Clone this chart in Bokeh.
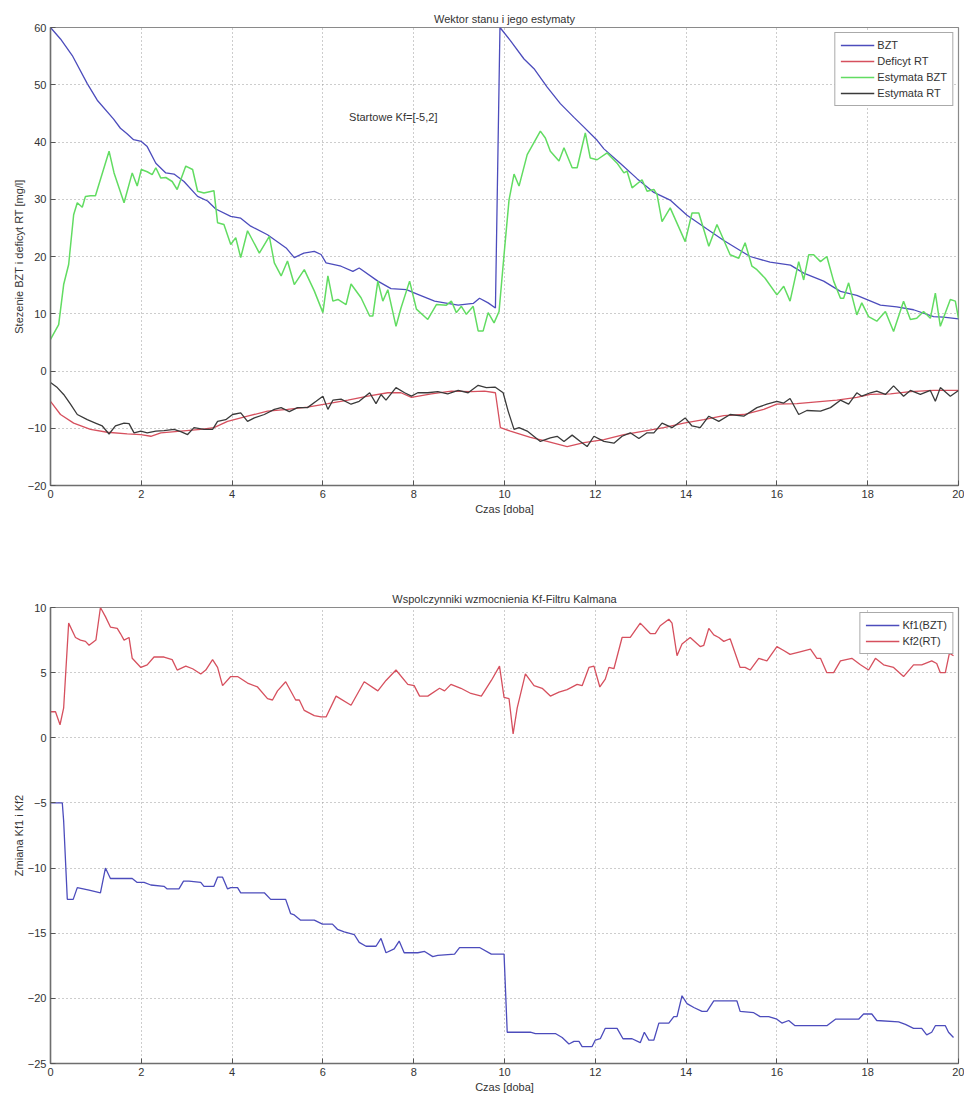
from bokeh.plotting import figure
from bokeh.layouts import column
from bokeh.models import FixedTicker, Label
from bokeh.embed import file_html
from bokeh.resources import INLINE

# ---------------- data: top chart (state vector and estimates) ----------------
bzt_t = [0, 0.22, 0.48, 0.81, 1.03, 1.39, 1.54, 1.68, 1.83, 2.0,
         2.13, 2.32, 2.54, 2.72, 2.94, 3.24, 3.46, 3.64, 3.97, 4.19,
         4.41, 4.78, 5.19, 5.37, 5.58, 5.81, 5.96, 6.07, 6.40, 6.66,
         6.80, 7.21, 7.50, 7.84, 8.09, 8.46, 8.68, 8.98, 9.31, 9.45,
         9.64, 9.80, 9.90, 10.13, 10.43, 10.65, 10.94, 11.23, 11.53, 11.75,
         12.04, 12.19, 12.56, 12.92, 13.29, 13.66, 14.02, 14.46, 14.83, 15.20,
         15.41, 15.85, 16.30, 16.59, 17.03, 17.40, 17.76, 18.28, 18.64, 19.01,
         19.45, 19.67, 20.0]
bzt_v = [60, 58.0, 55.1, 50.2, 47.3, 44.0, 42.4, 41.5, 40.4, 40.1,
         39.2, 36.3, 34.6, 34.4, 33.1, 30.5, 29.7, 28.3, 27.0, 26.7,
         25.3, 23.8, 21.5, 19.8, 20.6, 20.9, 20.35, 18.9, 18.3, 17.4,
         18.0, 15.7, 14.4, 14.2, 13.4, 12.2, 11.9, 11.5, 11.8, 12.7,
         11.9, 11.0, 60, 57.7, 54.5, 52.8, 49.6, 46.7, 44.3, 42.6,
         40.3, 38.8, 36.2, 33.6, 31.2, 29.8, 27.2, 24.8, 22.8, 21.0,
         20.0, 19.0, 18.5, 17.1, 15.7, 13.9, 13.2, 11.5, 11.2, 10.7,
         9.5, 9.4, 9.1]

def_t = [0, 0.22, 0.51, 0.88, 1.25, 1.69, 1.99, 2.21, 2.43, 2.87,
         3.31, 3.60, 3.90, 4.34, 4.78, 5.22, 5.66, 6.11, 6.55, 6.99,
         7.43, 7.72, 7.95, 8.39, 8.83, 9.27, 9.56, 9.80, 9.91, 10.13,
         10.57, 10.94, 11.38, 11.75, 12.19, 12.63, 13.07, 13.51, 13.95, 14.39,
         14.83, 15.27, 15.71, 16.0, 16.44, 16.88, 17.32, 17.76, 18.06, 18.50,
         18.94, 19.45, 20.0]
def_v = [-5.3, -7.6, -9.1, -10.2, -10.7, -11.0, -11.1, -11.4, -10.8, -10.5,
         -10.2, -9.9, -8.8, -7.9, -7.0, -6.7, -6.3, -5.7, -5.1, -4.4,
         -3.8, -3.8, -4.6, -4.0, -3.5, -3.6, -3.5, -3.8, -9.9, -10.5,
         -11.6, -12.3, -13.2, -12.5, -12.0, -11.1, -10.5, -9.9, -9.1, -8.5,
         -7.8, -7.6, -6.7, -5.8, -5.7, -5.4, -5.1, -4.6, -4.1, -4.0,
         -3.6, -3.4, -3.4]

est_bzt_t = [0, 0.18, 0.29, 0.40, 0.51, 0.59, 0.70, 0.77, 0.88, 0.99,
             1.29, 1.40, 1.62, 1.80, 1.91, 2.0, 2.13, 2.24, 2.32, 2.43,
             2.54, 2.68, 2.79, 2.98, 3.13, 3.24, 3.38, 3.60, 3.68, 3.82,
             3.97, 4.08, 4.19, 4.34, 4.60, 4.82, 4.93, 5.08, 5.22, 5.37,
             5.59, 5.81, 6.0, 6.11, 6.22, 6.33, 6.51, 6.62, 6.84, 7.03,
             7.10, 7.21, 7.32, 7.43, 7.61, 7.72, 7.91, 8.06, 8.31, 8.50,
             8.72, 8.83, 8.94, 9.05, 9.16, 9.31, 9.42, 9.53, 9.64, 9.77,
             9.88, 9.99, 10.10, 10.21, 10.32, 10.50, 10.79, 10.90, 11.01, 11.20,
             11.31, 11.49, 11.60, 11.78, 11.89, 12.04, 12.26, 12.48, 12.63, 12.70,
             12.81, 13.03, 13.14, 13.29, 13.36, 13.47, 13.65, 13.98, 14.13, 14.28,
             14.50, 14.68, 14.97, 15.16, 15.30, 15.45, 15.56, 15.74, 16.0, 16.15,
             16.29, 16.48, 16.59, 16.70, 16.81, 16.96, 17.10, 17.25, 17.40, 17.47,
             17.58, 17.76, 17.87, 18.02, 18.20, 18.39, 18.57, 18.79, 18.94, 19.08,
             19.23, 19.38, 19.49, 19.60, 19.82, 19.93, 20.0]
est_bzt_v = [5.5, 8.1, 15.1, 18.6, 27.3, 29.4, 28.6, 30.5, 30.6, 30.6,
             38.4, 34.6, 29.4, 34.6, 32.3, 35.2, 34.8, 34.3, 35.5, 33.7,
             33.8, 33.1, 31.7, 35.8, 35.2, 31.4, 31.1, 31.5, 25.9, 25.6,
             22.1, 23.3, 19.8, 24.5, 20.6, 23.5, 18.9, 16.6, 19.2, 15.1,
             17.7, 14.0, 10.2, 16.6, 12.2, 12.5, 11.6, 15.2, 12.8, 9.6,
             9.6, 15.7, 12.2, 14.2, 7.8, 11.0, 15.7, 10.8, 9.0, 11.6,
             11.5, 12.2, 10.2, 11.3, 9.9, 11.3, 7.0, 7.0, 10.2, 8.4,
             10.4, 20.3, 29.9, 34.4, 32.3, 37.8, 41.9, 40.7, 38.4, 36.7,
             39.0, 35.5, 35.5, 41.6, 37.2, 36.9, 38.1, 36.3, 34.6, 34.9,
             32.0, 33.4, 31.4, 31.7, 30.8, 26.1, 28.5, 22.6, 27.6, 27.6,
             21.8, 25.6, 20.3, 19.7, 22.4, 18.3, 17.7, 16.2, 13.3, 14.8,
             12.2, 19.1, 15.9, 20.3, 20.3, 19.1, 20.0, 15.7, 12.7, 12.7,
             15.4, 9.8, 11.9, 9.5, 8.7, 10.4, 6.9, 12.2, 9.0, 9.2,
             10.4, 9.2, 13.6, 7.8, 12.5, 12.2, 9.2]

est_rt_t = [0, 0.15, 0.29, 0.44, 0.59, 0.81, 0.99, 1.14, 1.29, 1.43,
            1.62, 1.73, 1.84, 1.99, 2.13, 2.32, 2.50, 2.72, 2.87, 3.02,
            3.16, 3.38, 3.57, 3.68, 3.86, 4.01, 4.19, 4.34, 4.49, 4.71,
            4.93, 5.08, 5.26, 5.44, 5.66, 5.85, 6.0, 6.11, 6.22, 6.40,
            6.62, 6.80, 7.03, 7.17, 7.28, 7.39, 7.61, 7.80, 7.95, 8.09,
            8.31, 8.53, 8.75, 8.98, 9.20, 9.42, 9.60, 9.79, 9.97, 10.08,
            10.21, 10.32, 10.50, 10.79, 11.01, 11.16, 11.31, 11.49, 11.67, 11.82,
            11.97, 12.19, 12.41, 12.59, 12.77, 12.96, 13.14, 13.29, 13.47, 13.69,
            13.98, 14.13, 14.31, 14.50, 14.72, 14.97, 15.27, 15.56, 15.78, 16.0,
            16.15, 16.29, 16.48, 16.66, 16.96, 17.18, 17.40, 17.58, 17.76, 17.87,
            18.06, 18.20, 18.39, 18.57, 18.79, 18.94, 19.16, 19.38, 19.49, 19.60,
            19.82, 20.0]
est_rt_v = [-2.0, -2.9, -4.1, -5.8, -7.6, -8.5, -9.1, -9.6, -11.0, -9.6,
            -9.1, -9.2, -10.8, -10.5, -10.8, -10.5, -10.4, -10.2, -10.6, -11.1,
            -9.9, -10.2, -10.2, -8.8, -8.5, -7.6, -7.3, -8.8, -8.2, -7.6,
            -6.7, -6.4, -7.1, -6.4, -6.4, -5.3, -4.4, -6.7, -5.1, -4.9,
            -5.8, -5.3, -3.8, -5.7, -4.1, -5.1, -2.9, -3.8, -4.4, -3.8,
            -3.8, -3.6, -4.0, -3.4, -3.8, -2.5, -2.9, -2.8, -3.8, -7.0,
            -10.2, -9.9, -10.5, -12.3, -11.7, -11.4, -12.3, -11.2, -12.3, -13.2,
            -11.4, -12.3, -12.6, -11.4, -10.8, -11.8, -10.8, -10.8, -9.1, -9.9,
            -8.2, -9.6, -9.9, -7.9, -8.8, -7.6, -7.9, -6.4, -5.8, -5.3,
            -5.6, -4.8, -7.6, -6.9, -7.0, -6.4, -5.1, -5.8, -3.8, -4.4,
            -3.8, -3.5, -4.1, -2.6, -4.4, -3.4, -4.1, -3.4, -5.3, -2.9,
            -4.4, -3.4]

# ---------------- data: bottom chart (Kalman gains) ----------------
kf1_t = [0, 0.26, 0.29, 0.37, 0.50, 0.59, 0.85, 1.10, 1.21, 1.32,
         1.80, 1.91, 2.06, 2.21, 2.50, 2.57, 2.83, 2.93, 3.05, 3.31,
         3.38, 3.60, 3.68, 3.79, 3.90, 3.97, 4.12, 4.19, 4.71, 4.85,
         5.18, 5.29, 5.37, 5.51, 5.81, 5.99, 6.21, 6.32, 6.47, 6.69,
         6.80, 6.95, 7.17, 7.28, 7.39, 7.57, 7.68, 7.79, 8.09, 8.24,
         8.42, 8.53, 8.90, 9.01, 9.45, 9.71, 9.99, 10.06, 10.57, 10.68,
         11.12, 11.27, 11.42, 11.53, 11.64, 11.71, 11.93, 12.0, 12.11, 12.22,
         12.48, 12.61, 12.81, 12.99, 13.08, 13.18, 13.29, 13.40, 13.62, 13.73,
         13.80, 13.91, 14.02, 14.17, 14.35, 14.46, 14.61, 15.12, 15.19, 15.49,
         15.63, 15.82, 16.0, 16.11, 16.26, 16.40, 17.10, 17.29, 17.80, 17.91,
         18.09, 18.20, 18.68, 18.83, 19.01, 19.19, 19.30, 19.41, 19.49, 19.71,
         19.78, 19.89]
kf1_v = [-5.0, -5.0, -6.4, -12.4, -12.4, -11.5, -11.7, -11.9, -10.0, -10.8,
         -10.8, -11.1, -11.1, -11.3, -11.4, -11.6, -11.6, -11.0, -11.0, -11.1,
         -11.4, -11.4, -10.7, -10.7, -11.6, -11.5, -11.5, -11.9, -11.9, -12.4,
         -12.4, -13.5, -13.6, -14.0, -14.0, -14.3, -14.3, -14.7, -14.9, -15.1,
         -15.7, -16.0, -16.0, -15.4, -16.5, -16.2, -15.6, -16.5, -16.5, -16.4,
         -16.8, -16.7, -16.6, -16.1, -16.1, -16.6, -16.6, -22.6, -22.6, -22.7,
         -22.7, -23.0, -23.5, -23.3, -23.3, -23.7, -23.7, -23.2, -23.1, -22.3,
         -22.3, -23.1, -23.1, -23.4, -22.6, -23.2, -23.2, -21.9, -21.9, -21.4,
         -21.4, -19.8, -20.4, -20.7, -21.0, -21.0, -20.2, -20.2, -21.0, -21.1,
         -21.4, -21.4, -21.6, -21.9, -21.7, -22.1, -22.1, -21.6, -21.6, -21.2,
         -21.2, -21.7, -21.8, -22.0, -22.3, -22.3, -22.8, -22.6, -22.1, -22.1,
         -22.6, -23.0]

kf2_t = [0, 0.11, 0.21, 0.29, 0.40, 0.55, 0.66, 0.77, 0.85, 1.0,
         1.10, 1.21, 1.32, 1.47, 1.54, 1.62, 1.73, 1.80, 1.99, 2.13,
         2.28, 2.50, 2.68, 2.79, 2.98, 3.13, 3.31, 3.42, 3.57, 3.68,
         3.79, 3.97, 4.12, 4.34, 4.56, 4.78, 4.89, 5.0, 5.18, 5.40,
         5.48, 5.59, 5.81, 5.96, 6.07, 6.29, 6.62, 6.91, 7.21, 7.39,
         7.61, 7.87, 8.01, 8.13, 8.31, 8.57, 8.68, 8.82, 9.04, 9.26,
         9.49, 9.71, 9.89, 9.99, 10.10, 10.19, 10.28, 10.46, 10.65, 10.83,
         11.01, 11.20, 11.38, 11.60, 11.71, 11.86, 11.97, 12.10, 12.22, 12.30,
         12.41, 12.59, 12.77, 12.99, 13.21, 13.32, 13.43, 13.62, 13.69, 13.80,
         13.91, 14.09, 14.31, 14.39, 14.50, 14.61, 14.72, 14.83, 14.97, 15.19,
         15.30, 15.41, 15.60, 15.78, 16.0, 16.15, 16.29, 16.51, 16.74, 16.88,
         16.96, 17.10, 17.25, 17.40, 17.65, 17.84, 18.02, 18.17, 18.35, 18.57,
         18.79, 19.01, 19.19, 19.41, 19.52, 19.60, 19.71, 19.80, 19.89]
kf2_v = [2.0, 2.0, 1.0, 2.3, 8.8, 7.7, 7.5, 7.4, 7.1, 7.5,
         10.0, 9.3, 8.5, 8.4, 8.0, 7.5, 7.7, 6.1, 5.4, 5.6,
         6.2, 6.2, 6.0, 5.2, 5.5, 5.3, 4.9, 5.2, 6.0, 5.4,
         4.0, 4.7, 4.7, 4.2, 3.9, 3.0, 2.9, 3.6, 4.3, 2.9,
         2.9, 2.1, 1.7, 1.6, 1.6, 3.2, 2.5, 4.3, 3.6, 4.4,
         5.2, 4.1, 4.0, 3.2, 3.2, 3.8, 3.6, 4.1, 3.8, 3.4,
         3.2, 4.4, 5.5, 3.1, 3.0, 0.3, 2.3, 4.9, 4.0, 3.8,
         3.2, 3.5, 3.7, 4.1, 4.0, 5.4, 5.5, 3.9, 4.5, 5.4,
         5.3, 7.7, 7.7, 8.8, 8.0, 8.0, 8.6, 9.1, 8.8, 6.3,
         7.2, 7.7, 7.0, 7.1, 8.4, 7.9, 7.7, 7.4, 7.6, 5.4,
         5.4, 5.2, 6.1, 5.9, 7.0, 6.7, 6.4, 6.6, 6.8, 6.1,
         6.1, 5.0, 5.0, 5.9, 6.1, 5.6, 5.2, 6.1, 5.6, 5.4,
         4.7, 5.6, 5.6, 5.9, 5.7, 5.0, 5.0, 6.5, 6.3]

x_ticks = [0, 2, 4, 6, 8, 10, 12, 14, 16, 18, 20]
y_ticks_top = [-20, -10, 0, 10, 20, 30, 40, 50, 60]
y_ticks_bottom = [-25, -20, -15, -10, -5, 0, 5, 10]

FONT = "Liberation Sans"
FS = "11px"
TXT = "#333333"

C_BLUE = "#4c4cbc"
C_RED = "#d6505e"
C_GREEN = "#62dc62"
C_BLACK = "#3a3a3a"


def style(p, yticks):
    p.title.text_font = FONT
    p.title.text_font_size = FS
    p.title.text_font_style = "normal"
    p.title.text_color = TXT
    p.title.align = "center"
    p.title.standoff = 6
    p.xaxis.ticker = FixedTicker(ticks=x_ticks)
    p.yaxis.ticker = FixedTicker(ticks=yticks)
    for ax in (p.xaxis[0], p.yaxis[0]):
        ax.major_label_text_font = FONT
        ax.major_label_text_font_size = FS
        ax.major_label_text_color = TXT
        ax.axis_label_text_font = FONT
        ax.axis_label_text_font_size = FS
        ax.axis_label_text_font_style = "normal"
        ax.axis_label_text_color = TXT
        ax.axis_line_color = "#6e6e6e"
        ax.axis_line_width = 1.5
        ax.major_tick_line_color = "#555555"
        ax.major_tick_in = 5
        ax.major_tick_out = 0
        ax.minor_tick_line_color = None
        ax.major_label_standoff = 4
    p.yaxis.axis_label_standoff = 0
    p.xaxis.axis_label_standoff = 2
    for g in (p.xgrid[0], p.ygrid[0]):
        g.grid_line_color = "#9a9a9a"
        g.grid_line_dash = "1 3"
        g.grid_line_width = 1
    p.outline_line_color = "#8a8a8a"
    p.outline_line_width = 1.2
    p.background_fill_color = "white"
    p.border_fill_color = "white"


def style_legend(p):
    lg = p.legend[0]
    lg.location = "top_right"
    lg.margin = 5
    lg.padding = 5
    lg.spacing = 2
    lg.label_height = 14
    lg.glyph_height = 14
    lg.glyph_width = 34
    lg.label_standoff = 3
    lg.label_text_font = FONT
    lg.label_text_font_size = FS
    lg.label_text_color = TXT
    lg.border_line_color = "#555555"
    lg.border_line_width = 1.5
    lg.background_fill_color = "white"
    lg.background_fill_alpha = 1.0


p1 = figure(frame_width=908, frame_height=458,
            min_border_left=50, min_border_right=6,
            min_border_top=27, min_border_bottom=55,
            x_range=(0, 20), y_range=(-20, 60),
            title="Wektor stanu i jego estymaty",
            output_backend="svg", toolbar_location=None)
p1.xaxis.axis_label = "Czas [doba]"
p1.yaxis.axis_label = "Stezenie BZT i deficyt RT [mg/l]"
style(p1, y_ticks_top)

p1.line(bzt_t, bzt_v, color=C_BLUE, line_width=1.3, legend_label="BZT")
p1.line(def_t, def_v, color=C_RED, line_width=1.3, legend_label="Deficyt RT")
p1.line(est_bzt_t, est_bzt_v, color=C_GREEN, line_width=1.5, legend_label="Estymata BZT")
p1.line(est_rt_t, est_rt_v, color=C_BLACK, line_width=1.3, legend_label="Estymata RT")
style_legend(p1)

p1.add_layout(Label(x=7.55, y=44.3, text="Startowe Kf=[-5,2]",
                    text_font=FONT, text_font_size=FS, text_color=TXT,
                    text_align="center", text_baseline="middle"))

p2 = figure(frame_width=908, frame_height=456,
            min_border_left=50, min_border_right=6,
            min_border_top=67, min_border_bottom=30,
            x_range=(0, 20), y_range=(-25, 10),
            title="Wspolczynniki wzmocnienia Kf-Filtru Kalmana",
            output_backend="svg", toolbar_location=None)
p2.xaxis.axis_label = "Czas [doba]"
p2.yaxis.axis_label = "Zmiana Kf1 i Kf2"
style(p2, y_ticks_bottom)

p2.line(kf1_t, kf1_v, color=C_BLUE, line_width=1.3, legend_label="Kf1(BZT)")
p2.line(kf2_t, kf2_v, color=C_RED, line_width=1.3, legend_label="Kf2(RT)")
style_legend(p2)

layout = column(p1, p2, spacing=0)
open("out.html", "w").write(file_html(layout, INLINE))
